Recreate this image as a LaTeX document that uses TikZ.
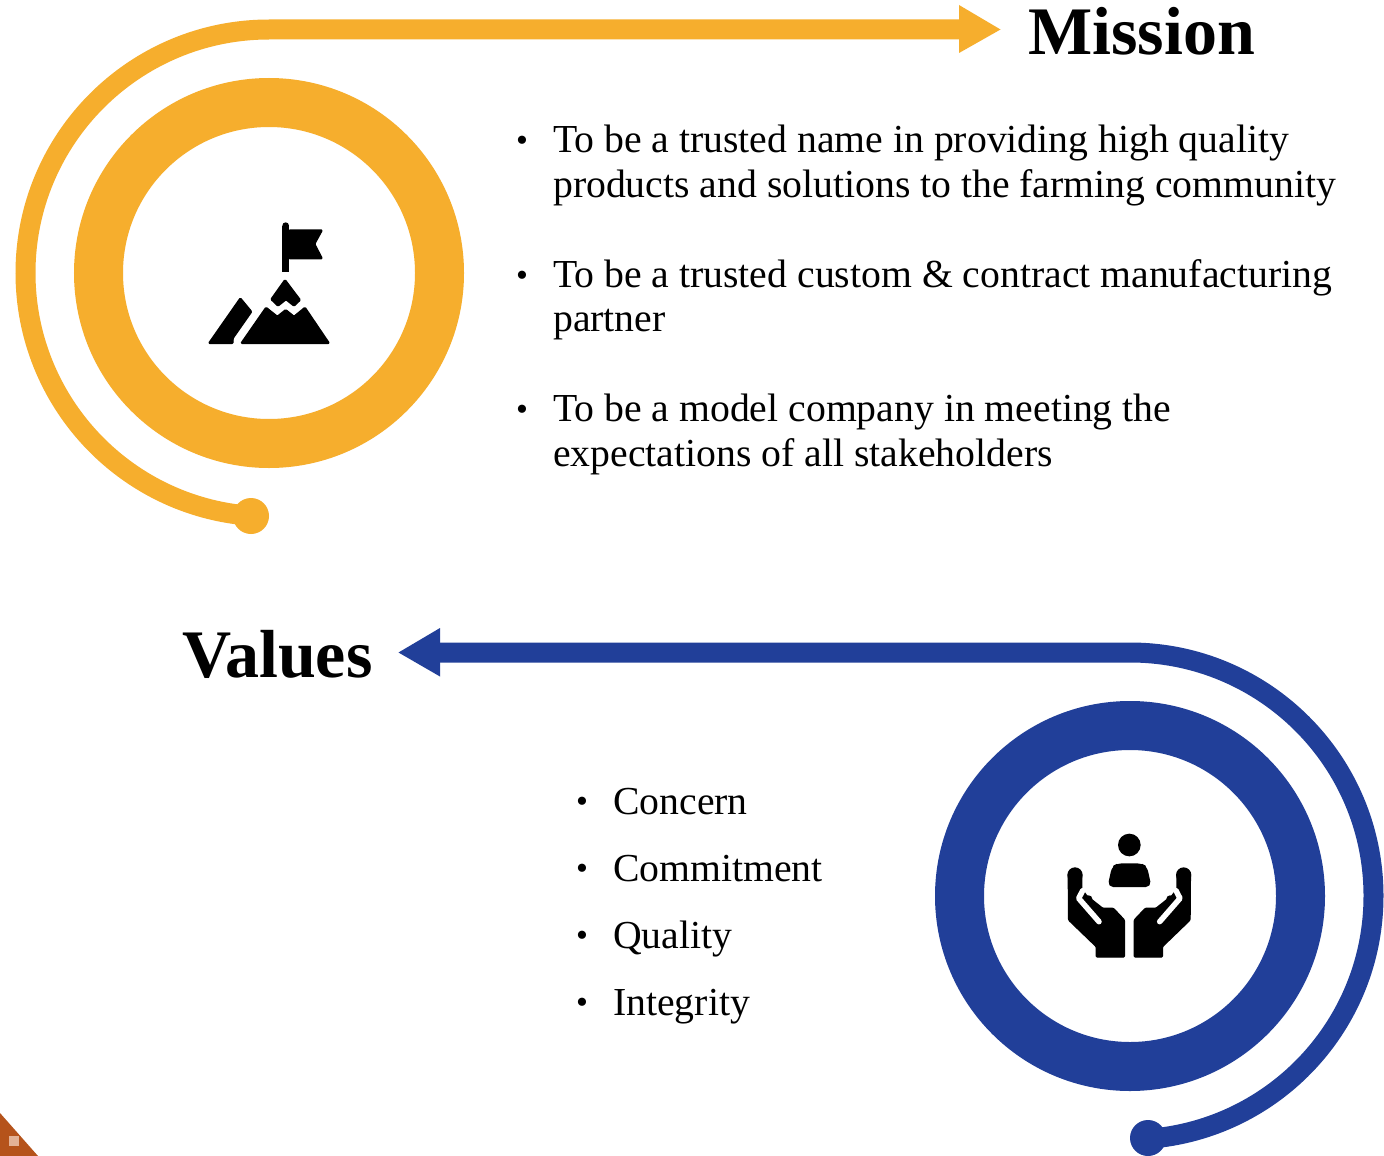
\documentclass[tikz,border=0pt]{standalone}
\usepackage{fontspec}
\setmainfont{Liberation Serif}
\definecolor{gold}{HTML}{F6AE2D}
\definecolor{navy}{HTML}{213F99}
\definecolor{rust}{HTML}{B5531B}
\definecolor{rustlight}{HTML}{E3B296}
\tikzset{
  body/.style={anchor=base west,inner sep=0pt,font=\fontsize{39.7}{45}\selectfont},
  bul/.style={anchor=base,inner sep=0pt,font=\fontsize{34}{40}\selectfont},
  head/.style={anchor=base west,inner sep=0pt,font=\fontsize{68}{74}\selectfont\bfseries},
  ico/.style={fill=black,draw=black,line width=1.4pt,line join=round,rounded corners=1pt},
  slot/.style={draw=white,line width=5.5pt,line cap=round,line join=round},
}
\begin{document}
\begin{tikzpicture}[x=1pt,y=-1pt]
\useasboundingbox (0,0) rectangle (1384,1156);
\fill[white] (0,0) rectangle (1384,1156);
% Mission
\draw[gold,line width=49pt] (269,273) circle[radius=170.5];
\draw[gold,line width=20pt] (960,29.5) -- (269,29.5) arc[start angle=270,delta angle=-175.7,radius=243.5];
\fill[gold] (959,5) -- (1000.5,29.5) -- (959,53) -- cycle;
\fill[gold] (251,516) circle[radius=18];
\begin{scope}[shift={(190,210)},scale=1/3]
  \fill[black] (287,47) circle[radius=10];
  \fill[black] (277,47) rectangle (297,185);
  \draw[ico] (297,60) -- (397,60) -- (374,102) -- (397,146) -- (297,146) -- cycle;
  \draw[ico] (285,209) -- (331,270) -- (312,288) -- (288,269) -- (264,288) -- (243,268) -- cycle;
  \draw[ico] (153,400) -- (228,292) -- (262,319) -- (287,299) -- (312,319) -- (345,292) -- (418,400) -- cycle;
  \draw[ico] (56,400) -- (151,264) -- (185,305) -- (129,385) -- (129,400) -- cycle;
\end{scope}
% Values
\draw[navy,line width=49pt] (1130,896) circle[radius=170.5];
\draw[navy,line width=20pt] (439,652.5) -- (1130,652.5) arc[start angle=270,delta angle=175.7,radius=243.5];
\fill[navy] (440,628) -- (398.5,652.5) -- (440,676.5) -- cycle;
\fill[navy] (1148,1138) circle[radius=18];
\begin{scope}[shift={(1050,825)},scale=1/3]
  \fill[black] (238,60) circle[radius=34];
  \draw[ico,rounded corners=5pt] (175,184) -- (188,125) -- (205,117) -- (272,117) -- (289,125) -- (302,184) -- cycle;
  \foreach \sx/\dx in {1/0,-1/476}{
  \begin{scope}[xshift=\dx pt,xscale=\sx]
    \fill[black] (75,150) circle[radius=23];
    \draw[ico] (55,150) -- (95,150) -- (95,192) -- (110,212) -- (158,250) -- (190,250) -- (223,285) -- (223,396) -- (139,396) -- (139,365) -- (56,285) -- cycle;
    \draw[slot] (98,197) -- (86,220) -- (147,290);
    \fill[black] (116,222) circle[radius=11];
  \end{scope}}
\end{scope}
% Texts
\node[head] (mission) at (1028,54.5) {Mission};
\node[head] (values) at (182,677) {Values};
\foreach \n/\y in {b1/151,b2/286,b3/420}{\node[bul] (\n) at (522,\y) {•};}
\node[body] (m1) at (553,152) {To be a trusted name in providing high quality};
\node[body] (m2) at (553,197) {products and solutions to the farming community};
\node[body] (m3) at (553,287) {To be a trusted custom \& contract manufacturing};
\node[body] (m4) at (553,331) {partner};
\node[body] (m5) at (553,421) {To be a model company in meeting the};
\node[body] (m6) at (553,466) {expectations of all stakeholders};
\foreach \n/\y in {c1/812,c2/879,c3/946,c4/1013}{\node[bul] (\n) at (582,\y) {•};}
\node[body] (v1) at (613,814) {Concern};
\node[body] (v2) at (613,881) {Commitment};
\node[body] (v3) at (613,948) {Quality};
\node[body] (v4) at (613,1015) {Integrity};
% corner
\fill[rust] (0,1113) -- (38,1156) -- (0,1156) -- cycle;
\fill[rustlight] (9,1136) rectangle (19,1146);
\end{tikzpicture}
\end{document}
